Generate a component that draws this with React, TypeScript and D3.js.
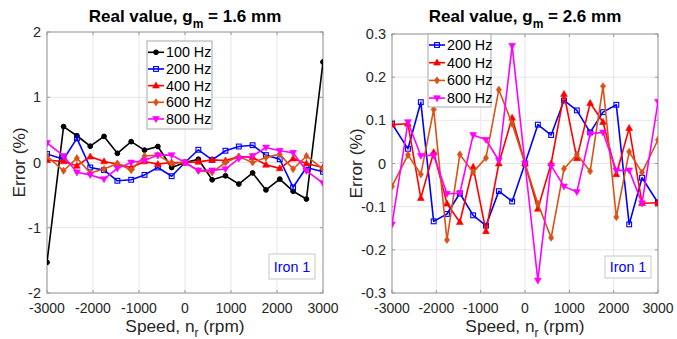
import React from 'react';
import * as d3 from 'd3';

const speeds = [-3000, -2640, -2350, -2060, -1760, -1470, -1170, -880, -590, -290, 0, 290, 590, 880, 1170, 1470, 1760, 2060, 2350, 2640, 3000];

const left100 = [-1.53, 0.55, 0.41, 0.25, 0.4, 0.14, 0.32, 0.19, 0.245, -0.077, 0, 0.05, -0.265, -0.204, -0.33, -0.16, -0.42, -0.255, -0.44, -0.56, 1.54];
const left200 = [0.13, 0.05, 0.37, -0.076, -0.117, -0.28, -0.265, -0.19, -0.077, -0.21, 0, 0.195, 0.04, 0.18, 0.245, 0.265, 0.113, 0.05, -0.38, -0.076, -0.142];
const left400 = [0.036, 0.016, -0.05, 0.09, 0.016, -0.025, -0.076, 0.016, -0.025, 0, 0, 0.01, 0.04, 0.03, 0.09, 0.08, -0.035, -0.09, 0.06, -0.015, -0.076];
const left600 = [0.1, -0.127, 0.067, -0.16, -0.1, -0.015, -0.117, 0.1, 0.113, -0.015, 0, -0.127, -0.15, 0, 0.09, 0, 0.077, 0.128, -0.1, 0.1, -0.1];
const left800 = [0.3, 0.1, -0.15, -0.19, -0.255, -0.09, 0, 0.03, 0.113, 0.113, 0, -0.12, -0.12, -0.1, 0.06, 0.1, 0.23, 0.18, 0.15, -0.127, -0.315];

const right200 = [0.092, 0.034, 0.142, -0.134, -0.117, -0.069, -0.12, -0.144, -0.064, -0.088, 0, 0.09, 0.066, 0.146, 0.123, 0.072, 0.119, 0.136, -0.141, -0.033, -0.091];
const right400 = [0.09, 0.092, -0.08, 0.026, -0.093, -0.136, -0.008, -0.157, 0, 0.106, 0, -0.105, 0, 0.161, 0.012, 0.14, 0.096, -0.025, 0.082, -0.092, -0.091];
const right600 = [-0.053, 0.02, -0.025, 0.125, -0.177, 0.021, -0.02, 0.013, 0.171, 0.092, 0, -0.093, -0.172, -0.012, 0.021, -0.018, 0.179, -0.124, 0.027, -0.021, 0.055];
const right800 = [-0.141, 0.096, 0.018, 0.019, -0.07, -0.069, 0.066, 0.055, 0.007, 0.273, 0, -0.271, -0.005, -0.053, -0.066, 0.069, 0.072, -0.016, -0.016, -0.092, 0.143];

const xTicks = [-3000, -2000, -1000, 0, 1000, 2000, 3000];
const leftYTicks = [-2, -1, 0, 1, 2];
const rightYTicks = [-0.3, -0.2, -0.1, 0, 0.1, 0.2, 0.3];

const FONT = '"Liberation Sans", Arial, Helvetica, sans-serif';

type Series = { label: string; values: number[]; color: string; marker: string };

const leftSeries: Series[] = [
  { label: '100 Hz', values: left100, color: '#000000', marker: 'circle' },
  { label: '200 Hz', values: left200, color: '#0000FF', marker: 'square' },
  { label: '400 Hz', values: left400, color: '#FF0000', marker: 'up' },
  { label: '600 Hz', values: left600, color: '#D95319', marker: 'diamond' },
  { label: '800 Hz', values: left800, color: '#FF00FF', marker: 'down' },
];
const rightSeries: Series[] = [
  { label: '200 Hz', values: right200, color: '#0000FF', marker: 'square' },
  { label: '400 Hz', values: right400, color: '#FF0000', marker: 'up' },
  { label: '600 Hz', values: right600, color: '#D95319', marker: 'diamond' },
  { label: '800 Hz', values: right800, color: '#FF00FF', marker: 'down' },
];

function Marker({ type, x, y, color }: { type: string; x: number; y: number; color: string }) {
  if (type === 'circle') return <circle cx={x} cy={y} r={2.4} fill={color} stroke={color} strokeWidth={1} />;
  if (type === 'square') return <rect x={x - 2.4} y={y - 2.4} width={4.8} height={4.8} fill="none" stroke={color} strokeWidth={1.1} />;
  if (type === 'up') return <path d={`M${x},${y - 3.6}L${x + 3.4},${y + 2.4}L${x - 3.4},${y + 2.4}Z`} fill={color} stroke={color} strokeWidth={0.6} />;
  if (type === 'down') return <path d={`M${x},${y + 3.6}L${x + 3.4},${y - 2.4}L${x - 3.4},${y - 2.4}Z`} fill={color} stroke={color} strokeWidth={0.6} />;
  return <path d={`M${x},${y - 3.6}L${x + 2.6},${y}L${x},${y + 3.6}L${x - 2.6},${y}Z`} fill={color} stroke={color} strokeWidth={0.6} />;
}

type PanelProps = {
  id: string;
  x0: number; x1: number; y0: number; y1: number;
  yDomain: [number, number];
  yTicks: number[];
  series: Series[];
  titleVal: string;
  legend: { x0: number; x1: number; y0: number; y1: number; firstY: number; step: number };
  iron: { x0: number; x1: number; y0: number; y1: number };
  ylabelX: number;
};

function Panel(p: PanelProps) {
  const x = d3.scaleLinear().domain([-3000, 3000]).range([p.x0, p.x1]);
  const y = d3.scaleLinear().domain(p.yDomain).range([p.y1, p.y0]);
  const line = d3.line<number>().x((_, i) => x(speeds[i])).y((v) => y(v));
  const cx = (p.x0 + p.x1) / 2;
  const cy = (p.y0 + p.y1) / 2;
  const axisColor = '#9a9a9a';
  const tickLen = 3;
  const fmt = (v: number) => (Math.abs(v) < 1e-9 ? '0' : String(+v.toFixed(2)));
  return (
    <g>
      <defs>
        <clipPath id={p.id}>
          <rect x={p.x0} y={p.y0 - 5} width={p.x1 - p.x0} height={p.y1 - p.y0 + 10} />
        </clipPath>
      </defs>
      <rect x={p.x0} y={p.y0} width={p.x1 - p.x0} height={p.y1 - p.y0} fill="#ffffff" />
      {xTicks.map((t) => (
        <line key={'gx' + t} x1={x(t)} x2={x(t)} y1={p.y0} y2={p.y1} stroke="#e6e6e6" strokeWidth={1} />
      ))}
      {p.yTicks.map((t) => (
        <line key={'gy' + t} x1={p.x0} x2={p.x1} y1={y(t)} y2={y(t)} stroke="#e6e6e6" strokeWidth={1} />
      ))}
      <rect x={p.x0} y={p.y0} width={p.x1 - p.x0} height={p.y1 - p.y0} fill="none" stroke={axisColor} strokeWidth={1} />
      {xTicks.map((t) => (
        <g key={'tx' + t}>
          <line x1={x(t)} x2={x(t)} y1={p.y1} y2={p.y1 - tickLen} stroke={axisColor} />
          <line x1={x(t)} x2={x(t)} y1={p.y0} y2={p.y0 + tickLen} stroke={axisColor} />
          <text x={x(t)} y={p.y1 + 20} textAnchor="middle" fontSize={14} fill="#262626" fontFamily={FONT}>{t}</text>
        </g>
      ))}
      {p.yTicks.map((t) => (
        <g key={'ty' + t}>
          <line x1={p.x0} x2={p.x0 + tickLen} y1={y(t)} y2={y(t)} stroke={axisColor} />
          <line x1={p.x1} x2={p.x1 - tickLen} y1={y(t)} y2={y(t)} stroke={axisColor} />
          <text x={p.x0 - 6} y={y(t) + 5} textAnchor="end" fontSize={14.5} fill="#262626" fontFamily={FONT}>{fmt(t)}</text>
        </g>
      ))}
      <g clipPath={`url(#${p.id})`}>
        {p.series.map((s) => (
          <g key={s.label}>
            <path d={line(s.values) || ''} fill="none" stroke={s.color} strokeWidth={1.6} strokeLinejoin="round" />
            {s.values.map((v, i) => (
              <Marker key={i} type={s.marker} x={x(speeds[i])} y={y(v)} color={s.color} />
            ))}
          </g>
        ))}
      </g>
      {/* legend */}
      <rect x={p.legend.x0} y={p.legend.y0} width={p.legend.x1 - p.legend.x0} height={p.legend.y1 - p.legend.y0} fill="#ffffff" stroke="#a8a8a8" strokeWidth={1} />
      {p.series.map((s, i) => {
        const ly = p.legend.firstY + i * p.legend.step;
        const lx = p.legend.x0 + 1;
        return (
          <g key={'lg' + s.label}>
            <line x1={lx} x2={lx + 16} y1={ly} y2={ly} stroke={s.color} strokeWidth={1.6} />
            <Marker type={s.marker} x={lx + 8} y={ly} color={s.color} />
            <text x={lx + 18} y={ly + 5} fontSize={14.3} fill="#000" fontFamily={FONT}>{s.label}</text>
          </g>
        );
      })}
      {/* Iron box */}
      <rect x={p.iron.x0} y={p.iron.y0} width={p.iron.x1 - p.iron.x0} height={p.iron.y1 - p.iron.y0} fill="#ffffff" stroke="#c8c8c8" strokeWidth={1} />
      <text x={(p.iron.x0 + p.iron.x1) / 2} y={(p.iron.y0 + p.iron.y1) / 2 + 5} textAnchor="middle" fontSize={14.3} fill="#0000FF" fontFamily={FONT}>Iron 1</text>
      {/* title */}
      <text x={cx} y={22} textAnchor="middle" fontSize={17} fontWeight="bold" fill="#000" fontFamily={FONT}>
        Real value, g<tspan fontSize={12} dy={6}>m</tspan><tspan dy={-6}>{' = ' + p.titleVal + ' mm'}</tspan>
      </text>
      {/* x label */}
      <text x={cx} y={332} textAnchor="middle" fontSize={17.3} fill="#262626" fontFamily={FONT}>
        Speed, n<tspan fontSize={12} dy={5}>r</tspan><tspan dy={-5}>{' (rpm)'}</tspan>
      </text>
      {/* y label */}
      <text transform={`translate(${p.ylabelX},${cy}) rotate(-90)`} textAnchor="middle" fontSize={17.3} fill="#262626" fontFamily={FONT}>Error (%)</text>
    </g>
  );
}

export default function App() {
  return (
    <svg width={677} height={339} style={{ position: 'absolute', left: 0, top: 0, background: '#fff' }}>
      <rect x={0} y={0} width={677} height={339} fill="#ffffff" />
      <Panel
        id="clipL" x0={47} x1={323} y0={32} y1={293} yDomain={[-2, 2]} yTicks={leftYTicks}
        series={leftSeries} titleVal="1.6"
        legend={{ x0: 147, x1: 212, y0: 41, y1: 129, firstY: 52.3, step: 16.67 }}
        iron={{ x0: 269, x1: 315, y0: 254, y1: 279 }}
        ylabelX={25}
      />
      <Panel
        id="clipR" x0={392} x1={658} y0={34} y1={293} yDomain={[-0.3, 0.3]} yTicks={rightYTicks}
        series={rightSeries} titleVal="2.6"
        legend={{ x0: 428, x1: 491, y0: 34, y1: 107, firstY: 45, step: 17.7 }}
        iron={{ x0: 605, x1: 651, y0: 256, y1: 278 }}
        ylabelX={362}
      />
    </svg>
  );
}
